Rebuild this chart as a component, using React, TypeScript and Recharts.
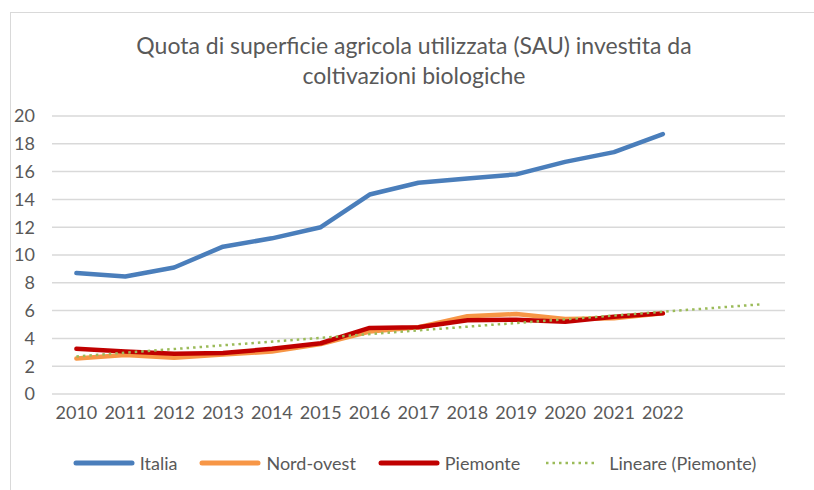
import React from 'react';
import { LineChart, Line, XAxis, YAxis, CartesianGrid } from 'recharts';

const years = ['2010','2011','2012','2013','2014','2015','2016','2017','2018','2019','2020','2021','2022','2023','2024'];
const yearLabels = ['2010','2011','2012','2013','2014','2015','2016','2017','2018','2019','2020','2021','2022','',''];
const italia = [8.7, 8.45, 9.1, 10.6, 11.2, 12.0, 14.35, 15.2, 15.5, 15.8, 16.7, 17.4, 18.7, null, null];
const nordOvest = [2.55, 2.8, 2.6, 2.85, 3.05, 3.6, 4.5, 4.8, 5.6, 5.75, 5.4, 5.45, 5.8, null, null];
const piemonte = [3.25, 3.05, 2.9, 2.95, 3.25, 3.65, 4.75, 4.8, 5.3, 5.35, 5.2, 5.55, 5.8, null, null];
const trendPiemonte = [2.7, null, null, null, null, null, null, null, null, null, null, null, null, null, 6.45];
const yTicks = [0, 2, 4, 6, 8, 10, 12, 14, 16, 18, 20];

const data = years.map((y, i) => ({
  year: y,
  italia: italia[i],
  nordOvest: nordOvest[i],
  piemonte: piemonte[i],
  trend: trendPiemonte[i],
}));

const FONT = 'Lato, "Open Sans", sans-serif';
const TXT = '#595959';

const legendItems = [
  { label: 'Italia', color: '#4a7ebb', dotted: false },
  { label: 'Nord-ovest', color: '#f79646', dotted: false },
  { label: 'Piemonte', color: '#c00000', dotted: false },
  { label: 'Lineare (Piemonte)', color: '#9bbb59', dotted: true },
];

export default function App() {
  return (
    <div style={{ position: 'fixed', left: 0, top: 0, width: 814, height: 490, overflow: 'hidden', background: '#fff', fontFamily: FONT }}>
      <div style={{ position: 'absolute', left: 10, top: 12, width: 900, height: 600, border: '1.5px solid #d9d9d9', boxSizing: 'border-box' }} />
      <div style={{ position: 'absolute', left: 0, width: 828, top: 30, textAlign: 'center', fontSize: 23, color: TXT, lineHeight: '30px' }}>
        <div>Quota di superficie agricola utilizzata (SAU) investita da</div>
        <div>coltivazioni biologiche</div>
      </div>
      <LineChart
        width={814}
        height={490}
        data={data}
        margin={{ top: 116, right: 29, bottom: 0, left: 0 }}
        style={{ position: 'absolute', left: 0, top: 0 }}
      >
        <CartesianGrid vertical={false} stroke="#d9d9d9" strokeWidth={1.5} />
        <XAxis
          dataKey="year"
          height={96}
          axisLine={false}
          tickLine={false}
          tickSize={0}
          tickMargin={12}
          padding={{ left: 24.4, right: 24.4 }}
          interval={0}
          tickFormatter={(v: string, i: number) => yearLabels[i]}
          tick={{ fill: TXT, fontSize: 18, fontFamily: FONT }}
        />
        <YAxis
          width={52}
          domain={[0, 20]}
          ticks={yTicks}
          axisLine={false}
          tickLine={false}
          tickSize={0}
          tickMargin={17}
          interval={0}
          tick={{ fill: TXT, fontSize: 18, fontFamily: FONT }}
        />
        <Line dataKey="italia" stroke="#4a7ebb" strokeWidth={4.5} dot={false} isAnimationActive={false} strokeLinecap="round" strokeLinejoin="round" />
        <Line dataKey="nordOvest" stroke="#f79646" strokeWidth={4.5} dot={false} isAnimationActive={false} strokeLinecap="round" strokeLinejoin="round" />
        <Line dataKey="piemonte" stroke="#c00000" strokeWidth={4.5} dot={false} isAnimationActive={false} strokeLinecap="round" strokeLinejoin="round" />
        <Line dataKey="trend" stroke="#9bbb59" strokeWidth={2.5} strokeDasharray="2.5 4" dot={false} connectNulls isAnimationActive={false} />
      </LineChart>
      <div style={{ position: 'absolute', left: 0, width: 829, top: 451, height: 24, display: 'flex', justifyContent: 'center', alignItems: 'center', gap: 22, fontSize: 18, color: TXT }}>
        {legendItems.map((it) => (
          <div key={it.label} style={{ display: 'flex', alignItems: 'center', gap: 5 }}>
            <svg width={62} height={8}>
              {it.dotted ? (
                <line x1={4} y1={4} x2={56} y2={4} stroke={it.color} strokeWidth={2.5} strokeDasharray="2.5 4" />
              ) : (
                <line x1={3} y1={4} x2={59} y2={4} stroke={it.color} strokeWidth={5} strokeLinecap="round" />
              )}
            </svg>
            <span>{it.label}</span>
          </div>
        ))}
      </div>
    </div>
  );
}
